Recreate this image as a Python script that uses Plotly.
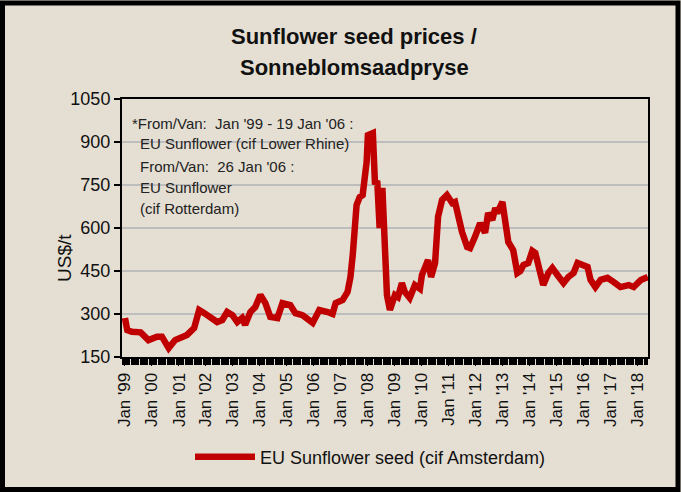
import plotly.graph_objects as go

# ---- data ----
dates = [
    "1999-01-01", "1999-02-01", "1999-04-05", "1999-08-01", "1999-11-15",
    "2000-03-10", "2000-05-15", "2000-08-15", "2000-11-10", "2001-04-20",
    "2001-07-25", "2001-10-01", "2001-12-10", "2002-03-01", "2002-06-01",
    "2002-08-10", "2002-10-15", "2002-12-25", "2003-03-01", "2003-05-05",
    "2003-06-15", "2003-08-25", "2003-10-30", "2004-01-07", "2004-03-15",
    "2004-05-20", "2004-08-25", "2004-11-01", "2005-02-15", "2005-04-25",
    "2005-07-30", "2005-12-15", "2006-03-15", "2006-07-05", "2006-09-10",
    "2006-10-22", "2007-01-25", "2007-04-01", "2007-05-10", "2007-06-10",
    "2007-08-01", "2007-09-12", "2007-10-22", "2007-12-15", "2008-01-01",
    "2008-03-08", "2008-04-05", "2008-05-08", "2008-06-08", "2008-07-15",
    "2008-09-15", "2008-10-25", "2009-01-01", "2009-02-10", "2009-04-05",
    "2009-05-15", "2009-07-20", "2009-09-28", "2009-12-05", "2010-01-01",
    "2010-02-25", "2010-03-25", "2010-05-05", "2010-06-28", "2010-08-08",
    "2010-10-01", "2010-12-05", "2011-02-15", "2011-03-25", "2011-05-05",
    "2011-06-28", "2011-09-05", "2011-10-15", "2011-12-20", "2012-02-28",
    "2012-05-05", "2012-06-15", "2012-08-10", "2012-09-20", "2012-10-15",
    "2012-12-25", "2013-02-05", "2013-03-15", "2013-05-20", "2013-07-15",
    "2013-08-25", "2013-10-05", "2013-12-10", "2014-02-03", "2014-03-15",
    "2014-04-25", "2014-07-01", "2014-09-08", "2014-11-01", "2015-01-08",
    "2015-04-01", "2015-06-05", "2015-08-15", "2015-10-08", "2015-12-15",
    "2016-02-20", "2016-04-01", "2016-06-05", "2016-08-15", "2016-11-15",
    "2017-02-05", "2017-05-10", "2017-08-30", "2017-11-05", "2018-02-10",
    "2018-05-15",
]
prices = [
    286, 244, 238, 236, 209,
    221, 221, 181, 209, 227,
    251, 314, 303, 290, 272,
    279, 307, 296, 272, 286,
    262, 307, 324, 366, 338,
    290, 286, 338, 331, 303,
    296, 269, 314, 307, 300,
    338, 349, 377, 429, 506,
    680, 708, 715, 830, 924,
    931, 760, 757, 600, 740,
    366, 314, 366, 359, 408,
    377, 356, 401, 388, 436,
    481, 488, 429, 478, 640,
    698, 715, 687, 691, 638,
    586, 534, 530, 569, 617,
    583, 652, 628, 670, 652,
    691, 617, 551, 523, 443,
    450, 471, 478, 520, 513,
    460, 401, 443, 460, 436,
    408, 429, 443, 478, 471,
    464, 419, 394, 419, 426,
    412, 394, 401, 394, 419,
    429,
]
series_name = "EU Sunflower seed (cif Amsterdam)"
tick_years = list(range(1999, 2019))
tick_dates = [f"{y}-01-01" for y in tick_years]
tick_labels = [f"Jan '{str(y)[2:]}" for y in tick_years]
y_ticks = [150, 300, 450, 600, 750, 900, 1050]
y_title = "US$/t"
note_lines = [
    "*From/Van:  Jan '99 - 19 Jan '06 :",
    "EU Sunflower (cif Lower Rhine)",
    "From/Van:  26 Jan '06 :",
    "EU Sunflower",
    "(cif Rotterdam)",
]
title_lines = ["Sunflower seed prices /", "Sonneblomsaadpryse"]

FONT = "Liberation Sans Narrow, Arial Narrow, Liberation Sans, Arial, sans-serif"
BG = "#e5dfd3"
INK = "#111111"

W, H = 681, 492
L, R, T, B = 122, 33, 99, 135
PW, PH = W - L - R, H - T - B


def px_x(x):
    return (x - L) / PW


def px_y(y):
    return (T + PH - y) / PH


fig = go.Figure()
fig.add_trace(go.Scatter(
    x=dates, y=prices, mode="lines", name=series_name,
    line=dict(color="#c00000", width=6.5),
))

fig.update_layout(
    width=W, height=H,
    margin=dict(l=L, r=R, t=T, b=B, pad=0),
    paper_bgcolor=BG, plot_bgcolor=BG,
    font=dict(family=FONT, color=INK),
    showlegend=True,
    legend=dict(
        x=px_x(190), xanchor="left",
        y=px_y(457), yanchor="middle",
        orientation="h", bgcolor="rgba(0,0,0,0)",
        font=dict(size=18, family=FONT, color=INK),
        itemwidth=60,
    ),
    xaxis=dict(
        type="date",
        range=["1998-11-22", "2018-05-18"],
        tickmode="array", tickvals=tick_dates, ticktext=tick_labels,
        tickangle=-90,
        tickfont=dict(size=17, family=FONT, color=INK),
        ticks="outside", ticklen=7, tickcolor="black", tickwidth=1,
        minor=dict(dtick="M1", ticks="outside", ticklen=6,
                   tickcolor="black", tickwidth=1.5, showgrid=False),
        showline=True, linecolor="black", linewidth=2, mirror=True,
        showgrid=False, zeroline=False,
    ),
    yaxis=dict(
        range=[150, 1050],
        tickmode="array", tickvals=y_ticks,
        ticktext=[str(v) for v in y_ticks],
        tickfont=dict(size=18, family=FONT, color=INK),
        ticks="outside", ticklen=6, tickcolor="black", tickwidth=2,
        showline=True, linecolor="black", linewidth=2, mirror=True,
        showgrid=True, gridcolor="#bdbdbd", gridwidth=2,
        zeroline=False,
    ),
)

# y-axis title
fig.add_annotation(
    text=y_title, xref="paper", yref="paper",
    x=px_x(64), y=px_y(258), xanchor="center", yanchor="middle",
    textangle=-90, showarrow=False,
    font=dict(size=19, family=FONT, color=INK),
)

# chart title (two centred lines)
for txt, yy in zip(title_lines, [36, 67]):
    fig.add_annotation(
        text=f"<b>{txt}</b>", xref="paper", yref="paper",
        x=px_x(354), y=px_y(yy), xanchor="center", yanchor="middle",
        showarrow=False, font=dict(size=22, family=FONT, color=INK),
    )

# note text block (top-left inside plot)
note_y = [123, 143, 166, 187, 208]
note_x = [130, 138, 138, 138, 138]
for txt, yy, xx in zip(note_lines, note_y, note_x):
    fig.add_annotation(
        text=txt, xref="paper", yref="paper",
        x=px_x(xx), y=px_y(yy),
        xanchor="left", yanchor="middle", showarrow=False,
        font=dict(size=15, family=FONT, color="#222222"),
    )

# outer black frame around the whole picture
fig.add_shape(
    type="rect", xref="paper", yref="paper",
    x0=px_x(2.5), x1=px_x(W - 3),
    y0=px_y(H - 2.5), y1=px_y(3),
    line=dict(color="black", width=5), fillcolor="rgba(0,0,0,0)",
    layer="above",
)

fig.write_html(
    "out.html",
    config={"displayModeBar": False},
    post_script="document.body.style.margin='0px';document.body.style.padding='0px';",
)
